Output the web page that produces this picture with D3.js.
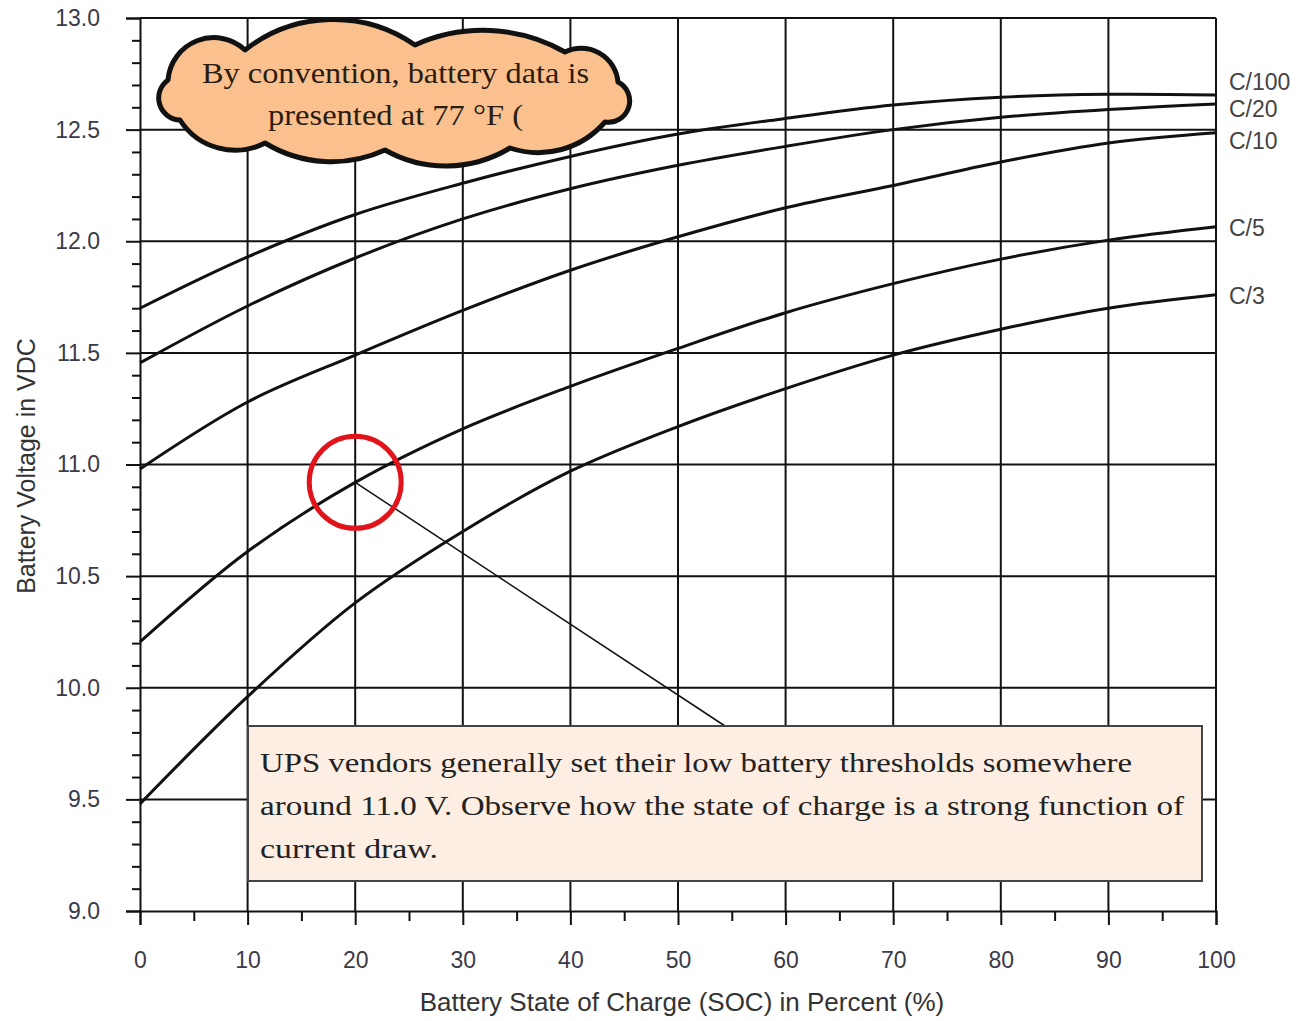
<!DOCTYPE html>
<html>
<head>
<meta charset="utf-8">
<script src="https://cdn.jsdelivr.net/npm/d3@7"></script>
<style>
body { margin: 0; background: #fff; }
</style>
</head>
<body>
<div id="chart"></div>
<script>
// state of charge (%) where each curve was read
const soc = [0, 10, 20, 30, 40, 50, 60, 70, 80, 90, 100];

// battery voltage per discharge rate
const seriesNames = ["C/100", "C/20", "C/10", "C/5", "C/3"];
const c100 = [11.70, 11.93, 12.12, 12.26, 12.38, 12.48, 12.55, 12.61, 12.645, 12.658, 12.655];
const c20  = [11.455, 11.71, 11.925, 12.10, 12.235, 12.34, 12.425, 12.50, 12.555, 12.59, 12.615];
const c10  = [10.98, 11.28, 11.49, 11.69, 11.87, 12.02, 12.15, 12.25, 12.355, 12.44, 12.486];
const c5   = [10.205, 10.61, 10.92, 11.16, 11.35, 11.52, 11.68, 11.81, 11.92, 12.005, 12.065];
const c3   = [9.48, 9.96, 10.38, 10.70, 10.97, 11.17, 11.34, 11.49, 11.606, 11.70, 11.76];
const seriesValues = [c100, c20, c10, c5, c3];

// tick labels
const xTicks = [0, 10, 20, 30, 40, 50, 60, 70, 80, 90, 100];
const yTicks = [9.0, 9.5, 10.0, 10.5, 11.0, 11.5, 12.0, 12.5, 13.0];

// highlighted point (20 %, ~10.9 V on C/5)
const markSoc = 20;
const markVolt = 10.92;

const cloudLines = ["By convention, battery data is", "presented at 77 \u00B0F ("];
const noteLines = [
    "UPS vendors generally set their low battery thresholds somewhere",
    "around 11.0 V. Observe how the state of charge is a strong function of",
    "current draw."
];

const width = 1316;
const height = 1021;
const plotLeft = 140, plotRight = 1216, plotTop = 18, plotBottom = 911;

const x = d3.scaleLinear().domain([0, 100]).range([plotLeft, plotRight]);
const y = d3.scaleLinear().domain([9, 13]).range([plotBottom, plotTop]);

const svg = d3.select('#chart')
    .append('svg')
        .attr('width', width)
        .attr('height', height)
        .style('font-family', '"Liberation Sans", Arial, sans-serif');

// grid
const grid = svg.append('g').attr('stroke', '#111').attr('stroke-width', 2);
grid.selectAll('.vx')
    .data(xTicks.filter(d => d > 0))
    .enter().append('line')
        .attr('x1', d => x(d)).attr('x2', d => x(d))
        .attr('y1', y(13)).attr('y2', y(9));
grid.selectAll('.hy')
    .data(yTicks.filter(d => d > 9))
    .enter().append('line')
        .attr('x1', x(0)).attr('x2', x(100))
        .attr('y1', d => y(d)).attr('y2', d => y(d));

// minor ticks
const yMinor = d3.range(90, 131).map(d => d / 10).filter(d => Math.round(d * 10) % 5 != 0);
const xMinor = d3.range(5, 100, 10);

svg.append('g')
    .attr('transform', `translate(${plotLeft},0)`)
    .call(d3.axisLeft(y).tickValues(yMinor).tickSize(8).tickFormat(''))
    .call(g => g.select('.domain').remove());
svg.append('g')
    .attr('transform', `translate(0,${plotBottom})`)
    .call(d3.axisBottom(x).tickValues(xMinor).tickSize(10).tickFormat(''))
    .call(g => g.select('.domain').remove());

// major axes
const yAxis = svg.append('g')
    .attr('transform', `translate(${plotLeft},0)`)
    .call(d3.axisLeft(y).tickValues(yTicks).tickSize(14).tickPadding(26).tickFormat(d3.format('.1f')));
const xAxis = svg.append('g')
    .attr('transform', `translate(0,${plotBottom})`)
    .call(d3.axisBottom(x).tickValues(xTicks).tickSize(14).tickPadding(27));

svg.selectAll('.tick line').attr('stroke', '#111').attr('stroke-width', 2);
[xAxis, yAxis].forEach(a => {
    a.select('.domain').attr('stroke', '#111').attr('stroke-width', 2);
    a.selectAll('text')
        .style('font-family', '"Liberation Sans", Arial, sans-serif')
        .style('font-size', '23px')
        .attr('fill', '#3a3a48');
});

// curves
const line = d3.line()
    .x((d, i) => x(soc[i]))
    .y(d => y(d))
    .curve(d3.curveCatmullRom.alpha(0.5));

svg.append('g').selectAll('path')
    .data(seriesValues)
    .enter().append('path')
        .attr('d', d => line(d))
        .attr('fill', 'none')
        .attr('stroke', '#111')
        .attr('stroke-width', 3);

// series labels at the right end
const labelShift = [-13, 5, 8, 1, 1];
svg.append('g').selectAll('text')
    .data(seriesNames)
    .enter().append('text')
        .attr('x', x(100) + 13)
        .attr('y', (d, i) => y(seriesValues[i][seriesValues[i].length - 1]) + labelShift[i])
        .attr('dy', '0.35em')
        .style('font-size', '23px')
        .attr('fill', '#444')
        .text(d => d);

// axis titles
svg.append('text')
    .attr('x', 682)
    .attr('y', 1011)
    .attr('text-anchor', 'middle')
    .style('font-size', '26px')
    .attr('fill', '#333')
    .text('Battery State of Charge (SOC) in Percent (%)');

svg.append('text')
    .attr('transform', 'rotate(-90)')
    .attr('x', -466)
    .attr('y', 35)
    .attr('text-anchor', 'middle')
    .style('font-size', '25px')
    .attr('fill', '#333')
    .text('Battery Voltage in VDC');

// pointer from the circle to the note
svg.append('line')
    .attr('x1', x(markSoc)).attr('y1', y(markVolt))
    .attr('x2', 725).attr('y2', 726)
    .attr('stroke', '#111')
    .attr('stroke-width', 1.5);

// red circle
svg.append('circle')
    .attr('cx', x(markSoc))
    .attr('cy', y(markVolt))
    .attr('r', 46)
    .attr('fill', 'none')
    .attr('stroke', '#e0141a')
    .attr('stroke-width', 5);

// note box
svg.append('rect')
    .attr('x', 248).attr('y', 726)
    .attr('width', 954).attr('height', 155)
    .attr('fill', '#fdeee3')
    .attr('stroke', '#444')
    .attr('stroke-width', 2);

const noteWidths = [872, 924, 178];
svg.append('g').selectAll('text')
    .data(noteLines)
    .enter().append('text')
        .attr('x', 260)
        .attr('y', (d, i) => 772 + i * 43)
        .attr('textLength', (d, i) => noteWidths[i])
        .attr('lengthAdjust', 'spacingAndGlyphs')
        .style('font-family', '"Liberation Serif", "DejaVu Serif", serif')
        .style('font-size', '28px')
        .attr('fill', '#222')
        .text(d => d);

// cloud callout: dips between bumps, with the depth of each bump
const cloudPts = [
    [168, 80, 26], [245, 50, 28], [415, 45, 18], [565, 52, 16], [618, 82, 18],
    [605, 122, 15], [510, 148, 17], [385, 150, 15], [265, 143, 17], [180, 120, 15]
];
let cloudPath = `M${cloudPts[0][0]},${cloudPts[0][1]}`;
cloudPts.forEach((p, i) => {
    const q = cloudPts[(i + 1) % cloudPts.length];
    const L = Math.hypot(q[0] - p[0], q[1] - p[1]);
    const s = p[2];
    const r = Math.max(L / 2, (L * L / 4 + s * s) / (2 * s));
    cloudPath += ` A${r},${r} 0 0 1 ${q[0]},${q[1]}`;
});
cloudPath += 'Z';

const cloud = svg.append('g');
cloud.append('path')
    .attr('d', cloudPath)
    .attr('fill', '#fac18f')
    .attr('stroke', '#111')
    .attr('stroke-width', 5)
    .attr('stroke-linejoin', 'round');

const cloudWidths = [387, 255];
const cloudX = [202, 268];
cloud.selectAll('text')
    .data(cloudLines)
    .enter().append('text')
        .attr('x', (d, i) => cloudX[i])
        .attr('y', (d, i) => 83 + i * 42)
        .attr('textLength', (d, i) => cloudWidths[i])
        .attr('lengthAdjust', 'spacingAndGlyphs')
        .style('font-family', '"Liberation Serif", "DejaVu Serif", serif')
        .style('font-size', '30px')
        .attr('fill', '#2b1c10')
        .text(d => d);
</script>
</body>
</html>
